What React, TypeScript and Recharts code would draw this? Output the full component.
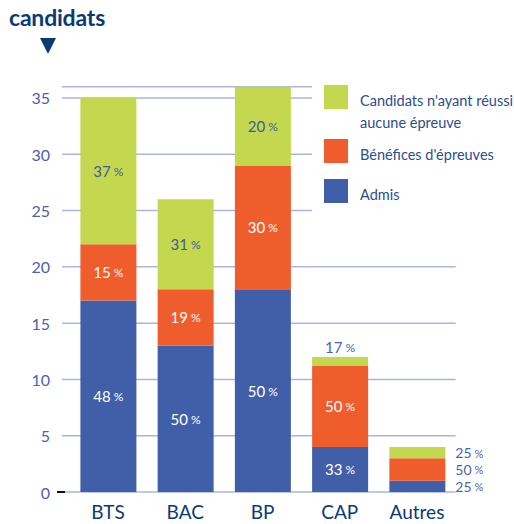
import { BarChart, Bar, XAxis, YAxis, CartesianGrid, LabelList } from 'recharts';

// values
const categories = ['BTS', 'BAC', 'BP', 'CAP', 'Autres'];
const admis = [17, 13, 18, 4, 1];
const benefices = [5, 5, 11, 7.2, 2];
const aucune = [13, 8, 7, 0.8, 1];
const pctAdmis = [48, 50, 50, 33, 25];
const pctBenef = [15, 19, 30, 50, 50];
const pctAucune = [37, 31, 20, 17, 25];
const yTicks = [0, 5, 10, 15, 20, 25, 30, 35];

const data = categories.map((name, i) => ({
  name,
  admis: admis[i],
  benefices: benefices[i],
  aucune: aucune[i],
}));

const BLUE = '#415fa9';
const ORANGE = '#f05d2d';
const GREEN = '#c4d84f';
const NAVY = '#0c3a76';
const TICK = '#4a63ad';
const FONT = 'Lato, "Open Sans", sans-serif';

const makeLabel = (pcts: number[], inside: string) => (props: any) => {
  const { x, y, width, height, index } = props;
  const total = admis[index] + benefices[index] + aucune[index];
  let tx = x + width / 2;
  let ty = y + height / 2;
  let anchor: 'middle' | 'start' = 'middle';
  let fill = inside;
  let size = 15;
  if (total < 6) {
    // small stack: labels on the right side
    tx = x + width + 10;
    anchor = 'start';
    fill = TICK;
    size = 14;
  } else if (height < 15) {
    ty = y - 10;
    fill = TICK;
  }
  return (
    <text x={tx} y={ty} textAnchor={anchor} dominantBaseline="central" fill={fill} fontFamily={FONT} fontSize={size}>
      {pcts[index]}
      <tspan fontSize={size - 3}> %</tspan>
    </text>
  );
};

const YTick = (props: any) => {
  const { x, y, payload } = props;
  return (
    <g>
      <text x={x - 4} y={y} textAnchor="end" dominantBaseline="central" fill={TICK} fontFamily={FONT} fontSize={16}>
        {payload.value}
      </text>
      {payload.value === 0 && <line x1={x + 3} x2={x + 11} y1={y} y2={y} stroke="#111" strokeWidth={2} />}
    </g>
  );
};

const legendItems = [
  { color: GREEN, lines: ["Candidats n'ayant réussi", 'aucune épreuve'], top: 85 },
  { color: ORANGE, lines: ["Bénéfices d'épreuves"], top: 139 },
  { color: BLUE, lines: ['Admis'], top: 179 },
];

export default function App() {
  return (
    <div style={{ position: 'absolute', left: 0, top: 0, width: 514, height: 524, background: '#fff', fontFamily: FONT }}>
      <div style={{ position: 'absolute', left: 9, top: 3, fontSize: 23, fontWeight: 700, color: NAVY, letterSpacing: -0.2 }}>
        candidats
      </div>
      <svg style={{ position: 'absolute', left: 40, top: 38 }} width={16} height={16}>
        <polygon points="0,0 16,0 8,16" fill={NAVY} />
      </svg>
      <BarChart
        width={514}
        height={524}
        data={data}
        margin={{ top: 86.7, right: 58.4, bottom: 2, left: 12 }}
        barSize={56}
      >
        <CartesianGrid vertical={false} stroke="#a8b7de" strokeWidth={1.5} />
        <XAxis
          dataKey="name"
          axisLine={false}
          tickLine={false}
          height={30}
          padding={{ left: 7.4, right: 0 }}
          tick={{ fill: NAVY, fontSize: 19, fontFamily: FONT, dy: 6 }}
          interval={0}
        />
        <YAxis
          width={50}
          domain={[0, 36]}
          ticks={yTicks}
          axisLine={false}
          tickLine={false}
          tick={<YTick />}
        />
        <Bar dataKey="admis" stackId="a" fill={BLUE} isAnimationActive={false}>
          <LabelList dataKey="admis" content={makeLabel(pctAdmis, '#ffffff')} />
        </Bar>
        <Bar dataKey="benefices" stackId="a" fill={ORANGE} isAnimationActive={false}>
          <LabelList dataKey="benefices" content={makeLabel(pctBenef, '#ffffff')} />
        </Bar>
        <Bar dataKey="aucune" stackId="a" fill={GREEN} isAnimationActive={false}>
          <LabelList dataKey="aucune" content={makeLabel(pctAucune, '#3f5aa0')} />
        </Bar>
      </BarChart>
      <div style={{ position: 'absolute', left: 312, top: 84, width: 202, height: 132, background: '#fff' }}>
        {legendItems.map((it) => (
          <div key={it.color} style={{ position: 'absolute', left: 12, top: it.top - 84, display: 'flex' }}>
            <div style={{ width: 24, height: 24, background: it.color, flexShrink: 0 }} />
            <div style={{ marginLeft: 12, marginTop: 5, fontSize: 14.5, lineHeight: '22px', color: '#2b4d8c', whiteSpace: 'nowrap' }}>
              {it.lines.map((l) => (
                <div key={l}>{l}</div>
              ))}
            </div>
          </div>
        ))}
      </div>
    </div>
  );
}
